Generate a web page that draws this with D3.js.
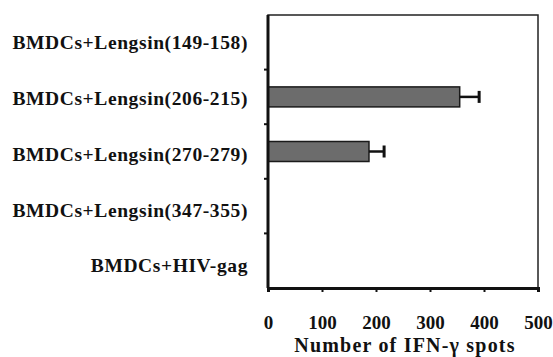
<!DOCTYPE html>
<html>
<head>
<meta charset="utf-8">
<script src="https://cdn.jsdelivr.net/npm/d3@7"></script>
<style>
  html, body { margin: 0; padding: 0; background: #fff; }
  svg { display: block; }
  svg text { font-family: "Liberation Serif", "Times New Roman", serif; font-weight: bold; fill: #111; }
</style>
</head>
<body>
<div id="chart"></div>
<script>
/* 数据 */
const groups = ['BMDCs+Lengsin(149-158)', 'BMDCs+Lengsin(206-215)', 'BMDCs+Lengsin(270-279)',
                'BMDCs+Lengsin(347-355)', 'BMDCs+HIV-gag'];
const spots = [0, 355, 187, 0, 0];
const errs = [0, 36, 28, 0, 0];
const xTicks = [0, 100, 200, 300, 400, 500];

const W = 553, H = 357;
const m = { left: 268, right: 15, top: 15, bottom: 69 };

const svg = d3.select('#chart').append('svg').attr('width', W).attr('height', H);

const x = d3.scaleLinear().domain([0, 500]).range([m.left, W - m.right]);
const y = d3.scaleBand().domain(groups).range([m.top, H - m.bottom]);
const rows = groups.map((g, i) => ({ g, v: spots[i], e: errs[i] }));

/* frame */
svg.append('rect')
  .attr('x', m.left).attr('y', m.top)
  .attr('width', W - m.right - m.left).attr('height', H - m.bottom - m.top)
  .attr('fill', 'none').attr('stroke', '#222').attr('stroke-width', 1.5);

/* bars */
const bh = 20;
const cy = d => y(d.g) + y.bandwidth() / 2;
svg.append('g').selectAll('rect').data(rows.filter(d => d.v > 0)).join('rect')
  .attr('x', x(0))
  .attr('y', d => cy(d) - bh / 2)
  .attr('width', d => x(d.v) - x(0))
  .attr('height', bh)
  .attr('fill', '#6c6c6c')
  .attr('stroke', '#1a1a1a').attr('stroke-width', 1.5);

/* error bars */
const eg = svg.append('g').selectAll('g').data(rows.filter(d => d.e > 0)).join('g');
eg.append('line')
  .attr('x1', d => x(d.v)).attr('x2', d => x(d.v + d.e))
  .attr('y1', cy).attr('y2', cy)
  .attr('stroke', '#111').attr('stroke-width', 2.5);
eg.append('line')
  .attr('x1', d => x(d.v + d.e)).attr('x2', d => x(d.v + d.e))
  .attr('y1', d => cy(d) - 6).attr('y2', d => cy(d) + 6)
  .attr('stroke', '#111').attr('stroke-width', 3);

/* y axis: ticks at band boundaries, labels at band centres */
const yAx = svg.append('g');
yAx.append('line')
  .attr('x1', m.left).attr('x2', m.left).attr('y1', m.top).attr('y2', H - m.bottom)
  .attr('stroke', '#111').attr('stroke-width', 3);
yAx.selectAll('line.tk').data(groups.slice(1)).join('line').attr('class', 'tk')
  .attr('x1', m.left - 4).attr('x2', m.left)
  .attr('y1', d => y(d)).attr('y2', d => y(d))
  .attr('stroke', '#111').attr('stroke-width', 2);
yAx.selectAll('text').data(groups).join('text')
  .attr('x', 248).attr('y', (d, i) => y(d) + y.bandwidth() / 2 + i * 1.2)
  .attr('dy', '0.35em').attr('text-anchor', 'end')
  .attr('font-size', 19.5).attr('letter-spacing', 0.6)
  .text(d => d);

/* x axis */
const xAx = svg.append('g').attr('transform', `translate(0,${H - m.bottom})`)
  .call(d3.axisBottom(x).tickValues(xTicks).tickSize(4).tickPadding(24));
xAx.attr('font-family', null).attr('font-size', null);
xAx.select('.domain').attr('stroke', '#111').attr('stroke-width', 3);
xAx.selectAll('.tick line').attr('stroke', '#111').attr('stroke-width', 2);
xAx.selectAll('.tick text').attr('font-size', 19).attr('fill', '#111');

svg.append('text')
  .attr('x', (m.left + W - m.right) / 2 + 2).attr('y', 352)
  .attr('text-anchor', 'middle').attr('font-size', 20).attr('letter-spacing', 1.2)
  .text('Number of IFN-\u03b3 spots');
</script>
</body>
</html>
